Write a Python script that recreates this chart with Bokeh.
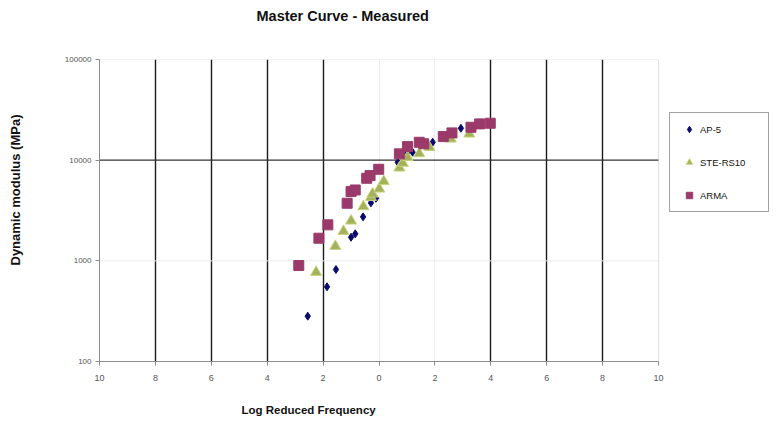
from bokeh.plotting import figure
from bokeh.models import FixedTicker, Grid, Legend, LegendItem, Title, Range1d, BoxAnnotation
from bokeh.embed import file_html
from bokeh.resources import INLINE

# ---- data ----
ap5_x = [-2.55, -1.86, -1.54, -1.00, -0.85, -0.57, -0.29, -0.11, 0.67, 1.00, 1.20, 1.92, 2.93]
ap5_y = [282, 552, 820, 1716, 1854, 2735, 3767, 4186, 9530, 11720, 12000, 15060, 20740]

ste_x = [-2.25, -1.56, -1.27, -1.00, -0.56, -0.29, -0.23, 0.01, 0.17, 0.73, 0.85, 1.02, 1.44, 1.80, 2.57, 3.23]
ste_y = [771, 1396, 1967, 2495, 3460, 4285, 4625, 5188, 6170, 8380, 9350, 10680, 11620, 13430, 16260, 18240]

arma_x = [-2.87, -2.15, -1.83, -1.14, -1.00, -0.85, -0.44, -0.32, -0.01, 0.73, 1.02, 1.44, 1.60, 2.30, 2.61, 3.29, 3.60, 3.98]
arma_y = [898, 1678, 2277, 3733, 4875, 5056, 6610, 7030, 8120, 11550, 13650, 15060, 14540, 17150, 18660, 21230, 22930, 23260]

x_tick_values = [-10, -8, -6, -4, -2, 0, 2, 4, 6, 8, 10]
x_tick_labels = ["10", "8", "6", "4", "2", "0", "2", "4", "6", "8", "10"]
y_tick_values = [100, 1000, 10000, 100000]
y_tick_labels = ["100", "1000", "10000", "100000"]

series_names = ["AP-5", "STE-RS10", "ARMA"]

X_MIN, X_MAX = -10, 10
Y_MIN, Y_MAX = 100, 100000

FONT = "Liberation Sans"

# the frame is widened to the right so the legend box can sit beside the plot area
p = figure(width=782, height=425, x_range=Range1d(X_MIN, 14.4), y_range=Range1d(Y_MIN, Y_MAX),
           y_axis_type="log", output_backend="svg", toolbar_location=None,
           min_border_left=98, min_border_right=1, min_border_top=59, min_border_bottom=64,
           background_fill_color="white", border_fill_color="white")
p.outline_line_color = None
p.xgrid.visible = False
p.ygrid.visible = False

# grids
dark_x = [-8, -6, -4, -2, 4, 6, 8]
faint_x = [0, 2]
p.add_layout(Grid(dimension=0, ticker=FixedTicker(ticks=faint_x), grid_line_color="#ececec", grid_line_width=1))
p.add_layout(Grid(dimension=0, ticker=FixedTicker(ticks=dark_x), grid_line_color="#1a1a1a", grid_line_width=1.4))
p.segment(x0=[X_MIN], x1=[X_MAX], y0=[1000], y1=[1000], line_color="#ececec", line_width=1)
p.segment(x0=[X_MIN], x1=[X_MAX], y0=[10000], y1=[10000], line_color="#333333", line_width=1.4)
p.add_layout(BoxAnnotation(left=X_MIN, right=X_MAX, bottom=Y_MIN, top=Y_MAX,
                           fill_color=None, line_color="#9a9a9a", line_width=1))

# axes
xa = p.xaxis[0]
xa.ticker = FixedTicker(ticks=x_tick_values)
xa.bounds = (X_MIN, X_MAX)
xa.major_label_overrides = {float(v): l for v, l in zip(x_tick_values, x_tick_labels)}
ya = p.yaxis[0]
ya.ticker = FixedTicker(ticks=y_tick_values)
ya.major_label_overrides = {float(v): l for v, l in zip(y_tick_values, y_tick_labels)}
for ax in (xa, ya):
    ax.axis_line_color = "#8a8a8a"
    ax.major_tick_line_color = "#8a8a8a"
    ax.major_tick_out = 4
    ax.major_tick_in = 0
    ax.minor_tick_line_color = None
    ax.major_label_text_font = FONT
    ax.major_label_text_color = "#555555"
xa.major_label_standoff = 9
ya.major_label_standoff = 4
xa.major_label_text_font_size = "9px"
ya.major_label_text_font_size = "8px"

# spacers + titles
p.add_layout(Title(text=" ", text_font_size="17px"), "above")
p.add_layout(Title(text="Master Curve - Measured", align="left", offset=157,
                   text_font=FONT, text_font_size="14.5px", text_font_style="bold",
                   text_color="#111111"), "above")
p.add_layout(Title(text=" ", text_font_size="1px"), "below")
p.add_layout(Title(text="Log Reduced Frequency", align="left", offset=142,
                   text_font=FONT, text_font_size="11.5px", text_font_style="bold",
                   text_color="#111111"), "below")
p.add_layout(Title(text=" ", text_font_size="20px"), "left")
p.add_layout(Title(text="Dynamic modulus (MPa)", align="left", offset=96,
                   text_font=FONT, text_font_size="13px", text_font_style="bold",
                   text_color="#111111"), "left")

r1 = p.scatter(ap5_x, ap5_y, marker="diamond", size=8, fill_color="#0a0a6e", line_color="#0a0a6e")
r2 = p.scatter(ste_x, ste_y, marker="triangle", size=11, fill_color="#a3b05c", line_color="#c9d37a", line_width=1)
r3 = p.scatter(arma_x, arma_y, marker="square", size=10, fill_color="#9b3a6a", line_color="#9b3a6a")

legend = Legend(items=[LegendItem(label=series_names[0], renderers=[r1]),
                       LegendItem(label=series_names[1], renderers=[r2]),
                       LegendItem(label=series_names[2], renderers=[r3])],
                location=(570, 149), margin=0, padding=8, spacing=17,
                label_height=16, glyph_height=16, glyph_width=22, label_standoff=0, label_width=60,
                label_text_font=FONT, label_text_font_size="9.5px", label_text_color="#111111",
                border_line_color="#444444", border_line_width=1, background_fill_color="white")
p.add_layout(legend, "center")

open("out.html", "w").write(file_html(p, INLINE))
